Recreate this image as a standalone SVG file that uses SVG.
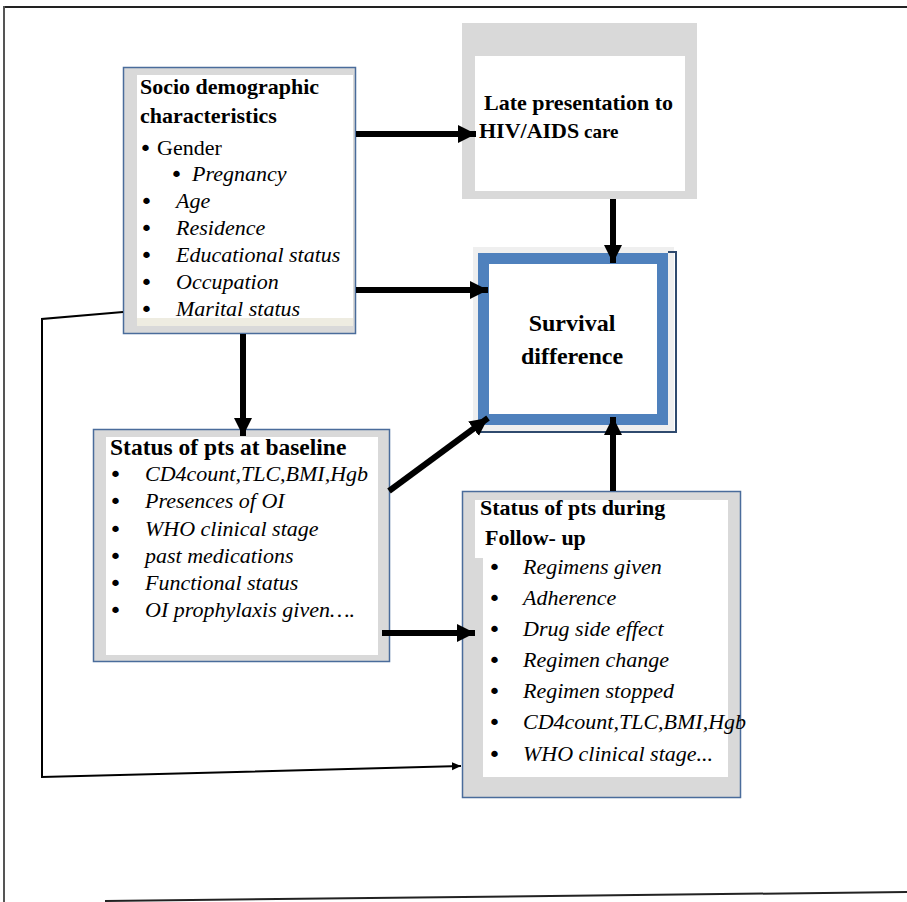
<svg xmlns="http://www.w3.org/2000/svg" width="907" height="902" viewBox="0 0 907 902">
<defs>
<style>
.t{font-family:"Liberation Serif","Times New Roman",serif;font-size:22px;fill:#000}
.b{font-weight:bold}
.i{font-style:italic}
.bu{font-family:"DejaVu Sans",sans-serif;font-size:22px;fill:#000}
.gray{fill:#d9d9d9}
.bord{fill:#d9d9d9;stroke:#4a6c9b;stroke-width:1.5}
.wh{fill:#fff}
.thick{stroke:#000;stroke-width:6;fill:none}
.thin{stroke:#000;stroke-width:2;fill:none}
</style>
<marker id="ah" markerUnits="userSpaceOnUse" markerWidth="20" markerHeight="20" viewBox="0 0 20 20" refX="18" refY="10" orient="auto">
<path d="M0,1 L18,10 L0,19 Z" fill="#000"/>
</marker>
<marker id="ahs" markerUnits="userSpaceOnUse" markerWidth="10" markerHeight="10" viewBox="0 0 10 10" refX="9" refY="5" orient="auto">
<path d="M0,1 L9,5 L0,9 Z" fill="#000"/>
</marker>
</defs>
<rect width="907" height="902" fill="#fff"/>
<g id="frame">
<line x1="4" y1="7" x2="907" y2="7" stroke="#222" stroke-width="2"/>
<line x1="4" y1="6" x2="4" y2="902" stroke="#555" stroke-width="2"/>
<line x1="105" y1="901" x2="907" y2="892" stroke="#222" stroke-width="2"/>
</g>
<g id="socio">
<rect class="bord" x="123.5" y="67.5" width="232" height="266"/>
<rect class="wh" x="137" y="75" width="216" height="243"/>
<rect fill="#eeece1" x="137" y="318" width="216" height="8"/>
<text class="t b" x="140" y="94">Socio demographic</text>
<text class="t b" x="140" y="123">characteristics</text>
<text class="bu" x="139" y="156">•</text>
<text class="t" x="157" y="155">Gender</text>
<text class="bu" x="170" y="182">•</text>
<text class="t i" x="192" y="181">Pregnancy</text>
<text class="bu" x="140" y="209">•</text>
<text class="t i" x="176" y="208">Age</text>
<text class="bu" x="140" y="236">•</text>
<text class="t i" x="176" y="235">Residence</text>
<text class="bu" x="140" y="263">•</text>
<text class="t i" x="176" y="262">Educational status</text>
<text class="bu" x="140" y="290">•</text>
<text class="t i" x="176" y="289">Occupation</text>
<text class="bu" x="140" y="317">•</text>
<text class="t i" x="176" y="316">Marital status</text>
</g>
<g id="late">
<rect class="gray" x="462" y="23" width="235" height="176"/>
<rect class="wh" x="475" y="56" width="210" height="135"/>
<text class="t b" x="484" y="110">Late presentation to</text>
<text class="t b" x="479" y="138">HIV/AIDS<tspan style="font-size:19px"> care</tspan></text>
</g>
<g id="survival">
<rect fill="#efefef" x="473" y="247" width="201" height="185"/>
<path d="M668,252 H676 V432 H478 V429" fill="none" stroke="#2f4a6e" stroke-width="2"/>
<rect fill="#fff" stroke="#4f81bd" stroke-width="11" x="483.5" y="258.5" width="179" height="161"/>
<text class="t b" x="572" y="331" style="font-size:24px" text-anchor="middle">Survival</text>
<text class="t b" x="572" y="364" style="font-size:24px" text-anchor="middle">difference</text>
</g>
<g id="baseline">
<rect class="bord" x="93.5" y="429.5" width="296" height="232"/>
<rect class="wh" x="106" y="437" width="272" height="218"/>
<text class="t b" x="110" y="455" style="font-size:23.5px">Status of pts at baseline</text>
<text class="bu" x="109" y="482">•</text>
<text class="t i" x="145" y="481">CD4count,TLC,BMI,Hgb</text>
<text class="bu" x="109" y="509">•</text>
<text class="t i" x="145" y="508">Presences of OI</text>
<text class="bu" x="109" y="537">•</text>
<text class="t i" x="145" y="536">WHO clinical stage</text>
<text class="bu" x="109" y="564">•</text>
<text class="t i" x="145" y="563">past medications</text>
<text class="bu" x="109" y="591">•</text>
<text class="t i" x="145" y="590">Functional status</text>
<text class="bu" x="109" y="618">•</text>
<text class="t i" x="145" y="617">OI prophylaxis given….</text>
</g>
<g id="followup">
<rect class="bord" x="462.5" y="491.5" width="278" height="306"/>
<rect class="wh" x="475" y="500" width="253" height="58"/>
<rect class="wh" x="483" y="558" width="245" height="219"/>
<text class="t b" x="480" y="515">Status of pts during</text>
<text class="t b" x="485" y="545">Follow- up</text>
<text class="bu" x="488" y="575">•</text>
<text class="t i" x="523" y="574">Regimens given</text>
<text class="bu" x="488" y="606">•</text>
<text class="t i" x="523" y="605">Adherence</text>
<text class="bu" x="488" y="637">•</text>
<text class="t i" x="523" y="636">Drug side effect</text>
<text class="bu" x="488" y="668">•</text>
<text class="t i" x="523" y="667">Regimen change</text>
<text class="bu" x="488" y="699">•</text>
<text class="t i" x="523" y="698">Regimen stopped</text>
<text class="bu" x="488" y="730">•</text>
<text class="t i" x="523" y="729">CD4count,TLC,BMI,Hgb</text>
<text class="bu" x="488" y="762">•</text>
<text class="t i" x="523" y="761">WHO clinical stage...</text>
</g>
<g id="connectors">
<line class="thick" x1="356" y1="134" x2="476" y2="134" marker-end="url(#ah)"/>
<line class="thick" x1="613" y1="199" x2="613" y2="263" marker-end="url(#ah)"/>
<line class="thick" x1="356" y1="290" x2="488" y2="290" marker-end="url(#ah)"/>
<line class="thick" x1="243" y1="334" x2="243" y2="436" marker-end="url(#ah)"/>
<line class="thick" x1="389" y1="491" x2="488" y2="418" marker-end="url(#ah)"/>
<line class="thick" x1="382" y1="633" x2="475" y2="633" marker-end="url(#ah)"/>
<line class="thick" x1="613" y1="491" x2="613" y2="417" marker-end="url(#ah)"/>
<polyline class="thin" points="123,312 42,319 42,777 461,766" marker-end="url(#ahs)"/>
</g>
</svg>
